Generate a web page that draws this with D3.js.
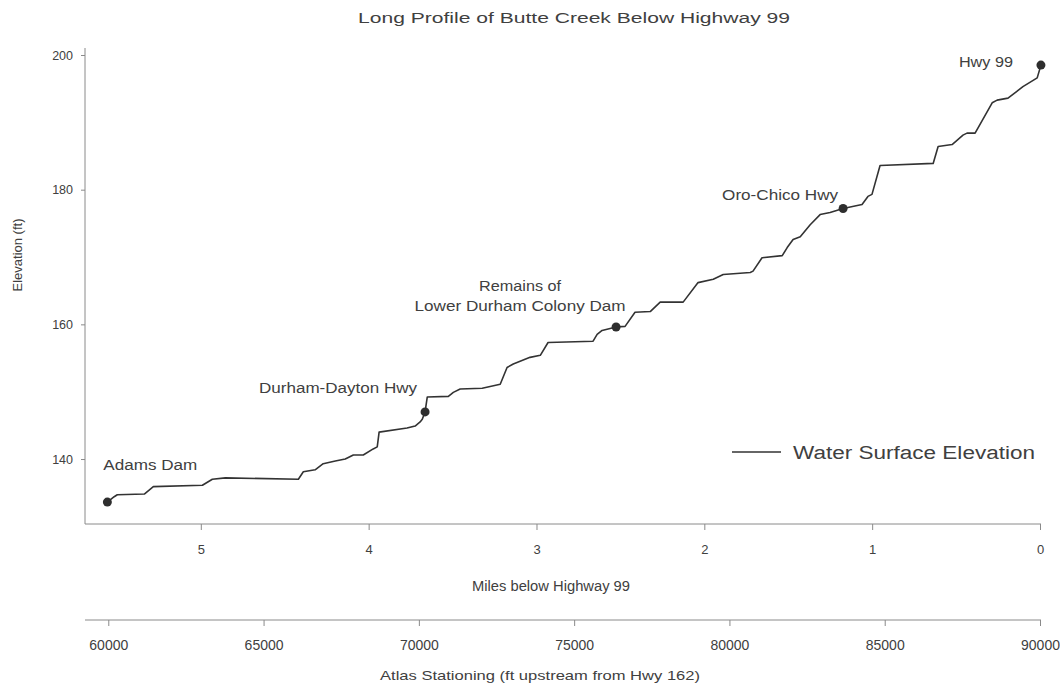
<!DOCTYPE html>
<html>
<head>
<meta charset="utf-8">
<script src="https://cdn.jsdelivr.net/npm/d3@7"></script>
<style>
body{margin:0;background:#fff;}
text{font-family:"Liberation Sans",Arial,sans-serif;fill:#404040;}
</style>
</head>
<body>
<div id="chart"></div>
<script>
// water surface profile (atlas stationing ft, elevation ft)
var station = [59970,60190,60290,61160,61450,63030,63350,63770,66120,66280,66660,66920,67310,67630,67890,68210,
	68530,68660,68720,69620,69880,70040,70110,70200,70270,70950,71110,71330,72040,72620,72840,73040,73580,73910,
	74160,75610,75740,75900,76350,76640,76960,77450,77770,78510,78990,79480,79800,80670,80760,81050,81700,81860,
	82050,82280,82600,82920,83240,83660,84270,84460,84590,84850,86560,86720,87170,87520,87650,87910,88460,88620,
	88970,89450,89910,90030];
var elevation = [133.6,134.4,134.7,134.8,135.9,136.1,137.0,137.2,137.0,138.1,138.4,139.3,139.7,140.0,140.6,140.6,
	141.5,141.8,144.0,144.6,144.9,145.5,145.9,147.0,149.2,149.3,149.9,150.4,150.5,151.1,153.6,154.1,155.1,155.4,
	157.3,157.5,158.5,159.1,159.6,159.7,161.8,161.9,163.3,163.3,166.2,166.7,167.4,167.7,167.9,169.9,170.2,171.4,
	172.6,173.0,174.8,176.3,176.6,177.2,177.8,179.0,179.3,183.6,183.9,186.4,186.7,188.1,188.4,188.4,192.9,193.3,
	193.6,195.3,196.6,198.5];

var siteNames = [["Adams Dam"],["Durham-Dayton Hwy"],["Remains of","Lower Durham Colony Dam"],["Oro-Chico Hwy"],["Hwy 99"]];
var siteStation = [59970,70200,76350,83660,90030];
var siteElev = [133.6,147.0,159.6,177.2,198.5];

var elevTicks = [140,160,180,200];
var mileTicks = [5,4,3,2,1,0];
var stationTicks = [60000,65000,70000,75000,80000,85000,90000];

var legendLabel = "Water Surface Elevation";

// label placement relative to each dot: dx, dy, anchor, widths of each line
var labelPos = [
	{dx:-4, dy:-32, anchor:"start", w:[94]},
	{dx:-8, dy:-19, anchor:"end", w:[158]},
	{dx:-96, dy:-36, anchor:"middle", w:[82,211]},
	{dx:-5, dy:-9, anchor:"end", w:[116]},
	{dx:-28, dy:2, anchor:"end", w:[54]}
];

var w = 1060, h = 695;
var svg = d3.select("#chart").append("svg")
	.attr("width", w)
	.attr("height", h);

var x = d3.scaleLinear().domain([59250, 90000]).range([85, 1040]);
var xm = d3.scaleLinear().domain([5.69, 0]).range([85, 1040]);
var y = d3.scaleLinear().domain([130.35, 201.04]).range([524, 48]);

function stretch(sel, len){
	sel.attr("textLength", len).attr("lengthAdjust", "spacingAndGlyphs");
}

// title
svg.append("text")
	.attr("x", 574).attr("y", 23)
	.attr("text-anchor", "middle")
	.style("font-size", "15.5px")
	.text("Long Profile of Butte Creek Below Highway 99")
	.call(stretch, 432);

// y axis
var yAxis = svg.append("g")
	.attr("transform", "translate(85,0)")
	.call(d3.axisLeft(y).tickValues(elevTicks).tickSize(4).tickPadding(8).tickFormat(d3.format("d")));
yAxis.select(".domain").attr("d", "M0,48V524").attr("stroke", "#8a8a8a");
yAxis.selectAll(".tick line").attr("stroke", "#8a8a8a");
yAxis.selectAll(".tick text").style("font-size", "12.5px").style("font-family", "Liberation Sans, Arial, sans-serif").attr("fill", "#404040");

svg.append("text")
	.attr("transform", "translate(22,255) rotate(-90)")
	.attr("text-anchor", "middle")
	.style("font-size", "13px")
	.text("Elevation (ft)");

// miles axis
var mAxis = svg.append("g")
	.attr("transform", "translate(0,524)")
	.call(d3.axisBottom(xm).tickValues(mileTicks).tickSize(6).tickPadding(15).tickFormat(d3.format("d")));
mAxis.select(".domain").attr("d", "M85,0H1041").attr("stroke", "#8a8a8a");
mAxis.selectAll(".tick line").attr("stroke", "#8a8a8a");
mAxis.selectAll(".tick text").style("font-size", "13px").style("font-family", "Liberation Sans, Arial, sans-serif").attr("fill", "#404040");

svg.append("text")
	.attr("x", 551).attr("y", 591)
	.attr("text-anchor", "middle")
	.style("font-size", "14px")
	.text("Miles below Highway 99")
	.call(stretch, 158);

// stationing axis
var sAxis = svg.append("g")
	.attr("transform", "translate(0,620)")
	.call(d3.axisBottom(x).tickValues(stationTicks).tickSize(6).tickPadding(14).tickFormat(d3.format("d")));
sAxis.select(".domain").attr("d", "M85,0H1041").attr("stroke", "#8a8a8a");
sAxis.selectAll(".tick line").attr("stroke", "#8a8a8a");
sAxis.selectAll(".tick text").style("font-size", "14px").style("font-family", "Liberation Sans, Arial, sans-serif").attr("fill", "#404040");

svg.append("text")
	.attr("x", 540).attr("y", 680)
	.attr("text-anchor", "middle")
	.style("font-size", "13px")
	.text("Atlas Stationing (ft upstream from Hwy 162)")
	.call(stretch, 320);

// water surface line
var line = d3.line()
	.x(function(d, i){ return x(station[i]); })
	.y(function(d, i){ return y(elevation[i]); });

svg.append("path")
	.datum(station)
	.attr("d", line)
	.attr("fill", "none")
	.attr("stroke", "#333")
	.attr("stroke-width", 1.6)
	.attr("stroke-linejoin", "round");

// site markers
svg.selectAll(".site")
	.data(siteStation)
	.enter().append("circle")
	.attr("class", "site")
	.attr("cx", function(d){ return x(d); })
	.attr("cy", function(d, i){ return y(siteElev[i]); })
	.attr("r", 4.5)
	.style("fill", "#2e2e2e");

var k;
for (k = 0; k < siteNames.length; k++){
	var p = labelPos[k];
	var cx = x(siteStation[k]), cy = y(siteElev[k]);
	var j;
	for (j = 0; j < siteNames[k].length; j++){
		svg.append("text")
			.attr("x", cx + p.dx)
			.attr("y", cy + p.dy + j*20)
			.attr("text-anchor", p.anchor)
			.style("font-size", "15.5px")
			.text(siteNames[k][j])
			.call(stretch, p.w[j]);
	}
}

// legend
svg.append("line")
	.attr("x1", 732).attr("x2", 781)
	.attr("y1", 452).attr("y2", 452)
	.attr("stroke", "#333")
	.attr("stroke-width", 1.6);
svg.append("text")
	.attr("x", 793).attr("y", 459)
	.style("font-size", "18px")
	.text(legendLabel)
	.call(stretch, 242);
</script>
</body>
</html>
